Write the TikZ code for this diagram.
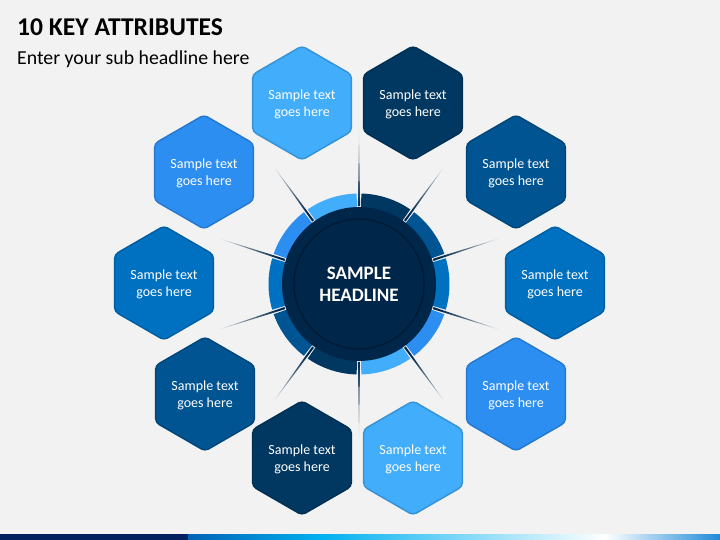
\documentclass[tikz,border=0pt]{standalone}
\usepackage{fontspec}
\setmainfont{Carlito}
\usetikzlibrary{shapes.geometric}

\definecolor{bg}{RGB}{242,242,242}
\definecolor{hexA}{RGB}{0,112,192}
\definecolor{hexB}{RGB}{0,84,145}
\definecolor{hexC}{RGB}{0,56,98}
\definecolor{hexD}{RGB}{66,173,251}
\definecolor{hexE}{RGB}{45,142,242}
\definecolor{hub}{RGB}{0,38,74}
\definecolor{hubedge}{RGB}{0,26,52}
\definecolor{barnavy}{RGB}{0,32,96}
\definecolor{barblue}{RGB}{0,98,181}
\definecolor{barcyan}{RGB}{0,176,240}
\definecolor{barend}{RGB}{31,138,216}

\begin{document}
\begin{tikzpicture}[x=1pt,y=1pt,
    hexnode/.style={regular polygon, regular polygon sides=6, shape border rotate=30,
        minimum size=114, inner sep=0, rounded corners=4pt, line width=1.5,
        text=white, align=center, text depth=0pt, font=\fontsize{14}{17}\selectfont}]
    % background
    \fill[bg] (-359,-256) rectangle (361,284);
    \node[anchor=base west, inner sep=0, font=\bfseries\fontsize{25.6}{30}\selectfont] (title) at (-342,248) {10 KEY ATTRIBUTES};
    \node[anchor=base west, inner sep=0, font=\fontsize{19.8}{24}\selectfont] (subtitle) at (-342,219) {Enter your sub headline here};

    % spokes
    \foreach \a in {18,54,...,342}
        \shade[top color=bg, bottom color=hub, middle color=hub!55!bg, shading angle=\a-90]
            (\a:157) -- (\a+0.8:78) -- (\a-0.8:78) -- cycle;

    % ring
    \foreach \a/\c in {0/hexA,36/hexB,72/hexC,108/hexD,144/hexE,180/hexA,216/hexB,252/hexC,288/hexD,324/hexE}
        \fill[\c] (\a-16.5:90.5) arc[start angle=\a-16.5, end angle=\a+16.5, radius=90.5]
            -- (\a+16.5:74) arc[start angle=\a+16.5, end angle=\a-16.5, radius=74] -- cycle;

    \node[circle, fill=hub, minimum size=154, inner sep=0] (hub) at (0,0) {};
    \node[circle, fill=hub, draw=hubedge, line width=1.2, minimum size=130, inner sep=0,
        text=white, align=center, font=\bfseries\fontsize{19}{22}\selectfont] (core) at (hub) {SAMPLE\\HEADLINE};

    % hexagons
    \foreach \n/\p/\c in {0/{(196,1)}/hexA,1/{(157,112)}/hexB,2/{(54,181)}/hexC,3/{(-57,181)}/hexD,4/{(-155,112)}/hexE,
        5/{(-195,1)}/hexA,6/{(-154,-110)}/hexB,7/{(-57,-174)}/hexC,8/{(54,-174)}/hexD,9/{(157,-110)}/hexE}
        \node[hexnode, fill=\c, draw=\c!85!black] (hex\n) at \p {Sample text\\goes here};

    % bottom bar
    \fill[barnavy] (-359,-256) rectangle (-171,-250);
    \shade[left color=barblue, right color=barcyan] (-171,-256) rectangle (-39,-250);
    \shade[left color=barcyan, right color=white] (-39,-256) rectangle (246,-250);
    \shade[left color=white, right color=barend] (246,-256) rectangle (361,-250);
\end{tikzpicture}
\end{document}
